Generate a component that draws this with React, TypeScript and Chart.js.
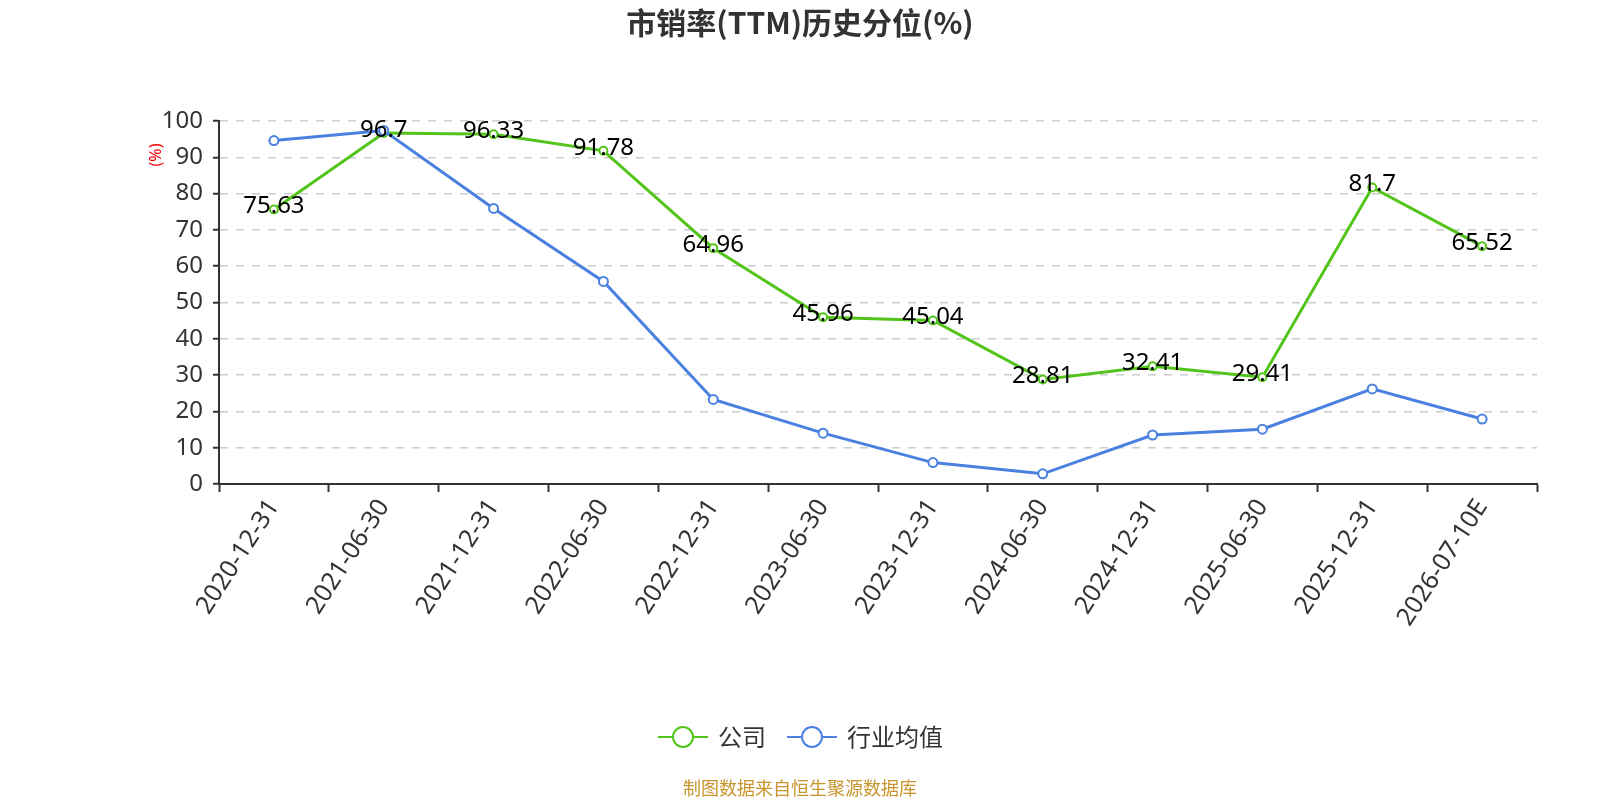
import { useEffect, useRef } from 'react'
import Chart from 'chart.js/auto'

const categories = [
  '2020-12-31', '2021-06-30', '2021-12-31', '2022-06-30', '2022-12-31', '2023-06-30',
  '2023-12-31', '2024-06-30', '2024-12-31', '2025-06-30', '2025-12-31', '2026-07-10E',
]
const companyValues = [75.63, 96.7, 96.33, 91.78, 64.96, 45.96, 45.04, 28.81, 32.41, 29.41, 81.7, 65.52]
const industryValues = [94.6, 97.4, 75.9, 55.8, 23.3, 14.0, 5.9, 2.8, 13.5, 15.1, 26.2, 17.9]
const yTicks = [0, 10, 20, 30, 40, 50, 60, 70, 80, 90, 100]

const seriesNames = ['公司', '行业均值']
const seriesColors = ['#52c41a', '#4a80e0']

const FONT = '"Noto Sans", "Noto Sans CJK SC", sans-serif'
const CJK = '"Noto Sans CJK SC", "Noto Sans", sans-serif'

const overlay = {
  id: 'overlay',
  afterDatasetsDraw(chart: Chart) {
    const { ctx } = chart
    const meta = chart.getDatasetMeta(0)
    ctx.save()
    ctx.font = `24px ${FONT}`
    ctx.fillStyle = '#000'
    ctx.textAlign = 'center'
    ctx.textBaseline = 'middle'
    meta.data.forEach((pt, i) => {
      ctx.fillText(String(companyValues[i]), pt.x, pt.y - 3)
    })
    ctx.restore()
  },
  afterDraw(chart: Chart) {
    const { ctx } = chart
    ctx.save()
    // title
    ctx.font = `bold 30px ${CJK}`
    ctx.fillStyle = '#333'
    ctx.textAlign = 'center'
    ctx.textBaseline = 'middle'
    ctx.fillText('市销率(TTM)历史分位(%)', 800, 23)

    // y axis unit
    ctx.save()
    ctx.translate(156, 155)
    ctx.rotate(-Math.PI / 2)
    ctx.font = `16px ${FONT}`
    ctx.fillStyle = '#ff0000'
    ctx.fillText('(%)', 0, 0)
    ctx.restore()

    // legend
    const items = [
      { x: 658, textX: 718 },
      { x: 787, textX: 847 },
    ]
    items.forEach((it, i) => {
      ctx.strokeStyle = seriesColors[i]
      ctx.lineWidth = 2
      ctx.beginPath()
      ctx.moveTo(it.x, 737)
      ctx.lineTo(it.x + 50, 737)
      ctx.stroke()
      ctx.beginPath()
      ctx.arc(it.x + 25, 737, 10, 0, Math.PI * 2)
      ctx.fillStyle = '#fff'
      ctx.fill()
      ctx.stroke()
      ctx.fillStyle = '#333'
      ctx.font = `24px ${CJK}`
      ctx.textAlign = 'left'
      ctx.fillText(seriesNames[i], it.textX, 737)
    })

    // footer
    ctx.font = `18px ${CJK}`
    ctx.fillStyle = '#c8952c'
    ctx.textAlign = 'center'
    ctx.fillText('制图数据来自恒生聚源数据库', 800, 788)
    ctx.restore()
  },
}

export default function App() {
  const canvasRef = useRef<HTMLCanvasElement>(null)
  const chartRef = useRef<Chart | null>(null)

  useEffect(() => {
    if (!canvasRef.current) return
    if (chartRef.current) chartRef.current.destroy()

    chartRef.current = new Chart(canvasRef.current, {
      type: 'line',
      data: {
        labels: categories,
        datasets: [
          {
            label: seriesNames[0],
            data: companyValues,
            borderColor: seriesColors[0],
            backgroundColor: '#fff',
            borderWidth: 3,
            pointRadius: 4,
            pointBorderWidth: 2,
            pointBackgroundColor: '#fff',
            pointBorderColor: seriesColors[0],
            tension: 0,
            order: 2,
          },
          {
            label: seriesNames[1],
            data: industryValues,
            borderColor: seriesColors[1],
            backgroundColor: '#fff',
            borderWidth: 3,
            pointRadius: 4.5,
            pointBorderWidth: 2,
            pointBackgroundColor: '#fff',
            pointBorderColor: seriesColors[1],
            tension: 0,
            order: 1,
          },
        ],
      },
      options: {
        responsive: false,
        animation: false,
        layout: { padding: { left: 0, right: 63, top: 121, bottom: 0 } },
        plugins: {
          legend: { display: false },
          title: { display: false },
          tooltip: { enabled: false },
        },
        scales: {
          x: {
            offset: true,
            grid: {
              offset: true,
              drawOnChartArea: false,
              drawTicks: true,
              tickLength: 8,
              tickColor: '#333',
              tickWidth: 2,
            },
            border: { display: true, color: '#333', width: 2 },
            ticks: {
              minRotation: 57,
              maxRotation: 57,
              autoSkip: false,
              color: '#333',
              font: { size: 25, family: FONT },
              padding: 2,
            },
            afterFit(scale: any) {
              scale.height = 316
            },
          },
          y: {
            min: 0,
            max: 100,
            afterBuildTicks(scale: any) {
              scale.ticks = yTicks.map((v) => ({ value: v }))
            },
            grid: {
              color: '#cccccc',
              lineWidth: 1.5,
              drawTicks: true,
              tickLength: 6,
              tickColor: '#333',
              tickWidth: 2,
            },
            border: { display: true, color: '#333', width: 2, dash: [8, 8] },
            ticks: {
              color: '#333',
              font: { size: 24, family: FONT },
              padding: 10,
            },
            afterFit(scale: any) {
              scale.width = 219
            },
          },
        },
      },
      plugins: [overlay],
    })

    return () => {
      if (chartRef.current) {
        chartRef.current.destroy()
        chartRef.current = null
      }
    }
  }, [])

  return (
    <div style={{ position: 'fixed', left: 0, top: 0, width: 1600, height: 800, background: '#fff' }}>
      <canvas ref={canvasRef} width={1600} height={800} style={{ width: 1600, height: 800 }} />
    </div>
  )
}
